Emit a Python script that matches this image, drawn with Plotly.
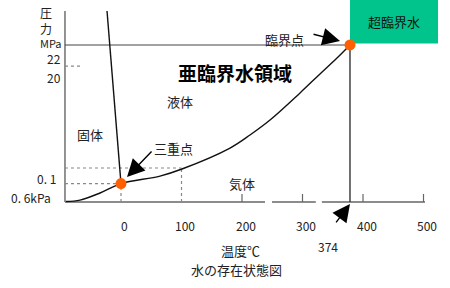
import plotly.graph_objects as go

# ---- data (temperature in degC, pressure on a schematic 0-100 diagram scale) ----
vap_T = [-90.9, -67.8, -34.7, 0, 64.5, 100.8, 180.2, 213.2, 246.3, 295.9, 328.9, 357.0, 378.5]
vap_P = [0.3, 1.0, 4.7, 9.6, 13.5, 17.2, 28.1, 34.9, 42.7, 56.8, 66.7, 75.0, 81.8]
melt_T = [0, -23.1]
melt_P = [9.6, 99.5]
triple = (0, 9.6)
critical = (378.5, 81.8)
p_atm = 17.7          # 0.1 MPa level
p_tick = 70.8         # short tick between 22 and 20
axis_left = -92.6
axis_top = 99.5
xaxis_segments = [(-92.6, 238.0), (249.6, 322.0), (332.0, 502.5)]
xtick_vals = [0, 100, 200, 300, 400, 500]
xtick_text = ["0", "100", "200", "300", "400", "500"]
ytick_text = ["22", "20", "0. 1", "0. 6kPa"]
ytick_pos = [75.0, 65.1, 12.5, 2.6]
ytick_right = [-96.4, -96.4, -104.0, -112.4]

FONT = "Noto Sans CJK JP"
TXT = "#222"
GRID = "#888"
ORANGE = "#FF5F00"

fig = go.Figure()

def seg(x, y, color, width, dash="solid"):
    fig.add_trace(go.Scatter(x=x, y=y, mode="lines",
                             line=dict(color=color, width=width, dash=dash),
                             hoverinfo="skip", showlegend=False))

# axes drawn as lines
seg([axis_left, axis_left], [0, axis_top], "#666", 1.4)
xs, ys = [], []
for a, b in xaxis_segments:
    xs += [a, b, None]
    ys += [0, 0, None]
seg(xs, ys, "#666", 1.4)
tx, ty = [], []
for v in xtick_vals[2:]:
    tx += [v, v, None]
    ty += [0, 4.2, None]
seg(tx, ty, "#666", 1.2)

# guide lines
seg([axis_left, 100], [p_atm, p_atm], GRID, 1.2, "dot")
seg([100, 100], [0, p_atm], GRID, 1.2, "dot")
seg([axis_left, triple[0]], [triple[1], triple[1]], GRID, 1.2, "dot")
seg([triple[0], triple[0]], [0, triple[1]], GRID, 1.2, "dot")
seg([axis_left, -66.1], [p_tick, p_tick], GRID, 1.2, "dot")
seg([axis_left, critical[0]], [critical[1], critical[1]], "#444", 1.1)
seg([critical[0], critical[0]], [0, critical[1]], "#333", 1.4)

# phase boundaries
seg(melt_T, melt_P, "#111", 1.4)
fig.add_trace(go.Scatter(x=vap_T, y=vap_P, mode="lines",
                         line=dict(color="#111", width=1.4, shape="spline", smoothing=1.0),
                         hoverinfo="skip", showlegend=False))

# points
fig.add_trace(go.Scatter(x=[triple[0], critical[0]], y=[triple[1], critical[1]],
                         mode="markers", marker=dict(color=ORANGE, size=11),
                         hoverinfo="skip", showlegend=False, cliponaxis=False))

# supercritical box
fig.add_shape(type="rect", x0=critical[0], x1=524, y0=82.6, y1=105.2,
              fillcolor="#00C48C", line=dict(width=0), layer="below")

def txt(x, y, s, size=13, color=TXT, bold=False, xanchor="center", pad=1):
    fig.add_annotation(x=x, y=y, text=f"<b>{s}</b>" if bold else s, showarrow=False,
                       font=dict(family=FONT, size=size, color=color),
                       xanchor=xanchor, yanchor="middle", borderpad=pad)

txt(451.2, 93.8, "超臨界水", 13, "#111")
txt(188.4, 67.7, "亜臨界水領域", 19, "#000", bold=True)
txt(97.5, 52.1, "液体")
txt(-51.2, 35.4, "固体")
txt(86, 28.1, "三重点")
txt(200, 9.9, "気体")
txt(270.2, 84.9, "臨界点")
txt(198.3, -25.0, "温度℃")
txt(191.7, -35.4, "水の存在状態図")
txt(342.1, -23.4, "374", 12)
for v, s in zip(xtick_vals, xtick_text):
    txt(v + 6, -12.0, s, 12)
for s, p, r in zip(ytick_text, ytick_pos, ytick_right):
    txt(r, p, s, 12, xanchor="right")
txt(-124, 94.3, "圧<br>力", 12, pad=0)
txt(-96.4, 82.6, "MPa", 11, xanchor="right", pad=0)

def arrow(x, y, ax, ay):
    fig.add_annotation(x=x, y=y, ax=ax, ay=ay, text="", showarrow=True,
                       arrowhead=2, arrowsize=2.5, arrowwidth=1.4, arrowcolor="#000")

arrow(9.9, 13.0, 26, -27)
arrow(362, 83.9, -28, -7)
arrow(critical[0], -1.0, -15, 20)

fig.update_layout(
    width=450, height=288,
    margin=dict(l=0, r=0, t=0, b=0),
    paper_bgcolor="white", plot_bgcolor="white",
    xaxis=dict(visible=False, range=[-200.0, 543.8]),
    yaxis=dict(visible=False, range=[-44.79, 105.21]),
    showlegend=False,
)
fig.write_html("out.html")
